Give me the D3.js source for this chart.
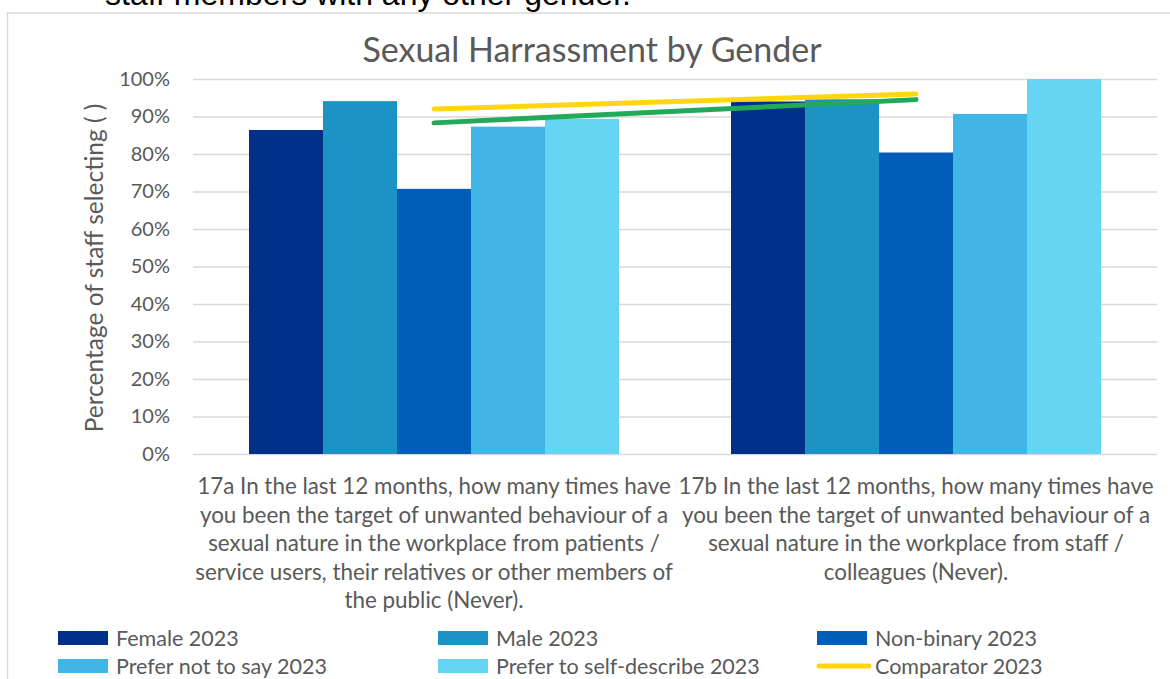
<!DOCTYPE html>
<html>
<head>
<meta charset="utf-8">
<script src="https://cdn.jsdelivr.net/npm/d3@7"></script>
<style>
  body { margin: 0; background: #fff; }
  svg { display: block; font-family: Lato, 'Open Sans', sans-serif; }
</style>
</head>
<body>
<svg id="chart"></svg>
<script>
const width = 1170;
const height = 679;
const margin = { top: 79, right: 13, bottom: 225, left: 193 };

// questions (x categories), each split into the lines shown under the axis
const questions = [
    ['17a In the last 12 months, how many times have',
     'you been the target of unwanted behaviour of a',
     'sexual nature in the workplace from patients /',
     'service users, their relatives or other members of',
     'the public (Never).'],
    ['17b In the last 12 months, how many times have',
     'you been the target of unwanted behaviour of a',
     'sexual nature in the workplace from staff /',
     'colleagues (Never).']
];
const questionKeys = ['17a', '17b'];

const seriesNames = ['Female 2023', 'Male 2023', 'Non-binary 2023', 'Prefer not to say 2023', 'Prefer to self-describe 2023'];
const seriesColors = ['#00318a', '#1c92c5', '#005eb8', '#41b5e5', '#66d4f3'];

// percent selecting, one value per question
const female = [86.4, 94.0];
const male = [94.1, 94.6];
const nonBinary = [70.7, 80.4];
const preferNotToSay = [87.3, 90.7];
const selfDescribe = [89.4, 100];

const comparator = [92.0, 96.0];
const otherLine = [88.3, 94.5];

const yTicks = [0, 10, 20, 30, 40, 50, 60, 70, 80, 90, 100];

const barValues = [female, male, nonBinary, preferNotToSay, selfDescribe];

const svg = d3.select('#chart')
    .attr('width', width)
    .attr('height', height);

// text from the document above the chart, cut off by the crop
svg.append('text')
    .attr('x', 105)
    .attr('y', 5)
    .attr('font-family', "'Liberation Sans', Arial, sans-serif")
    .attr('font-size', 32)
    .attr('fill', '#000')
    .text('staff members with any other gender.');

// chart frame
svg.append('rect')
    .attr('x', 7.5)
    .attr('y', 13)
    .attr('width', 1200)
    .attr('height', 700)
    .attr('fill', 'none')
    .attr('stroke', '#d9d9d9')
    .attr('stroke-width', 1.5);

svg.append('text')
    .attr('x', 592)
    .attr('y', 62)
    .attr('text-anchor', 'middle')
    .attr('font-size', 34)
    .attr('fill', '#595959')
    .text('Sexual Harrassment by Gender');

const x0 = d3.scaleBand()
    .domain(questionKeys)
    .range([margin.left, width - margin.right]);

const x1 = d3.scaleBand()
    .domain(seriesNames)
    .range([56, x0.bandwidth() - 56]);

const y = d3.scaleLinear()
    .domain([0, 100])
    .range([height - margin.bottom, margin.top]);

const yAxis = svg.append('g')
    .attr('transform', `translate(${margin.left}, 0)`)
    .call(d3.axisLeft(y)
        .tickValues(yTicks)
        .tickSize(-(width - margin.left - margin.right))
        .tickPadding(23)
        .tickFormat(d => d + '%'));

yAxis.select('.domain').remove();
yAxis.selectAll('.tick line')
    .attr('stroke', '#d9d9d9')
    .attr('stroke-width', 1.5);
yAxis.selectAll('.tick text')
    .attr('font-family', "Lato, 'Open Sans', sans-serif")
    .attr('font-size', 20)
    .attr('fill', '#595959');

svg.append('text')
    .attr('transform', 'translate(103, 268) rotate(-90)')
    .attr('text-anchor', 'middle')
    .attr('font-size', 24.5)
    .attr('fill', '#595959')
    .text('Percentage of staff selecting ( )');

// bars
const groups = svg.append('g')
    .selectAll('g')
    .data(questionKeys)
    .enter().append('g')
    .attr('transform', d => `translate(${x0(d)}, 0)`);

groups.selectAll('rect')
    .data((q, qi) => seriesNames.map((name, si) => ({ name, color: seriesColors[si], value: barValues[si][qi] })))
    .enter().append('rect')
    .attr('x', d => x1(d.name))
    .attr('y', d => y(d.value))
    .attr('width', x1.bandwidth())
    .attr('height', d => y(0) - y(d.value))
    .attr('fill', d => d.color);

// lines across category centres
const line = d3.line()
    .x((d, i) => x0(questionKeys[i]) + x0.bandwidth() / 2)
    .y(d => y(d));

svg.append('path')
    .datum(otherLine)
    .attr('d', line)
    .attr('fill', 'none')
    .attr('stroke', '#22a95a')
    .attr('stroke-width', 5)
    .attr('stroke-linecap', 'round');

svg.append('path')
    .datum(comparator)
    .attr('d', line)
    .attr('fill', 'none')
    .attr('stroke', '#ffd610')
    .attr('stroke-width', 5)
    .attr('stroke-linecap', 'round');

// category labels
const xLabels = svg.append('g')
    .selectAll('text')
    .data(questions)
    .enter().append('text')
    .attr('text-anchor', 'middle')
    .attr('font-size', 22.4)
    .attr('fill', '#595959');

xLabels.selectAll('tspan')
    .data((lines, qi) => lines.map(t => ({ t, qi })))
    .enter().append('tspan')
    .attr('x', d => x0(questionKeys[d.qi]) + x0.bandwidth() / 2)
    .attr('y', (d, i) => 494 + i * 28.6)
    .text(d => d.t);

// legend
const legendItems = seriesNames.map((name, i) => ({ name, color: seriesColors[i], type: 'rect' }))
    .concat([{ name: 'Comparator 2023', color: '#ffd610', type: 'line' }]);
const legendCols = [58, 438, 817];

const legend = svg.append('g')
    .selectAll('g')
    .data(legendItems)
    .enter().append('g')
    .attr('transform', (d, i) => `translate(${legendCols[i % 3]}, ${631 + Math.floor(i / 3) * 28})`);

legend.filter(d => d.type === 'rect').append('rect')
    .attr('width', 50)
    .attr('height', 14)
    .attr('fill', d => d.color);

legend.filter(d => d.type === 'line').append('line')
    .attr('x1', 2)
    .attr('x2', 52)
    .attr('y1', 7)
    .attr('y2', 7)
    .attr('stroke', d => d.color)
    .attr('stroke-width', 5)
    .attr('stroke-linecap', 'round');

legend.append('text')
    .attr('x', 58)
    .attr('y', 14.5)
    .attr('font-size', 21.5)
    .attr('fill', '#595959')
    .text(d => d.name);
</script>
</body>
</html>
